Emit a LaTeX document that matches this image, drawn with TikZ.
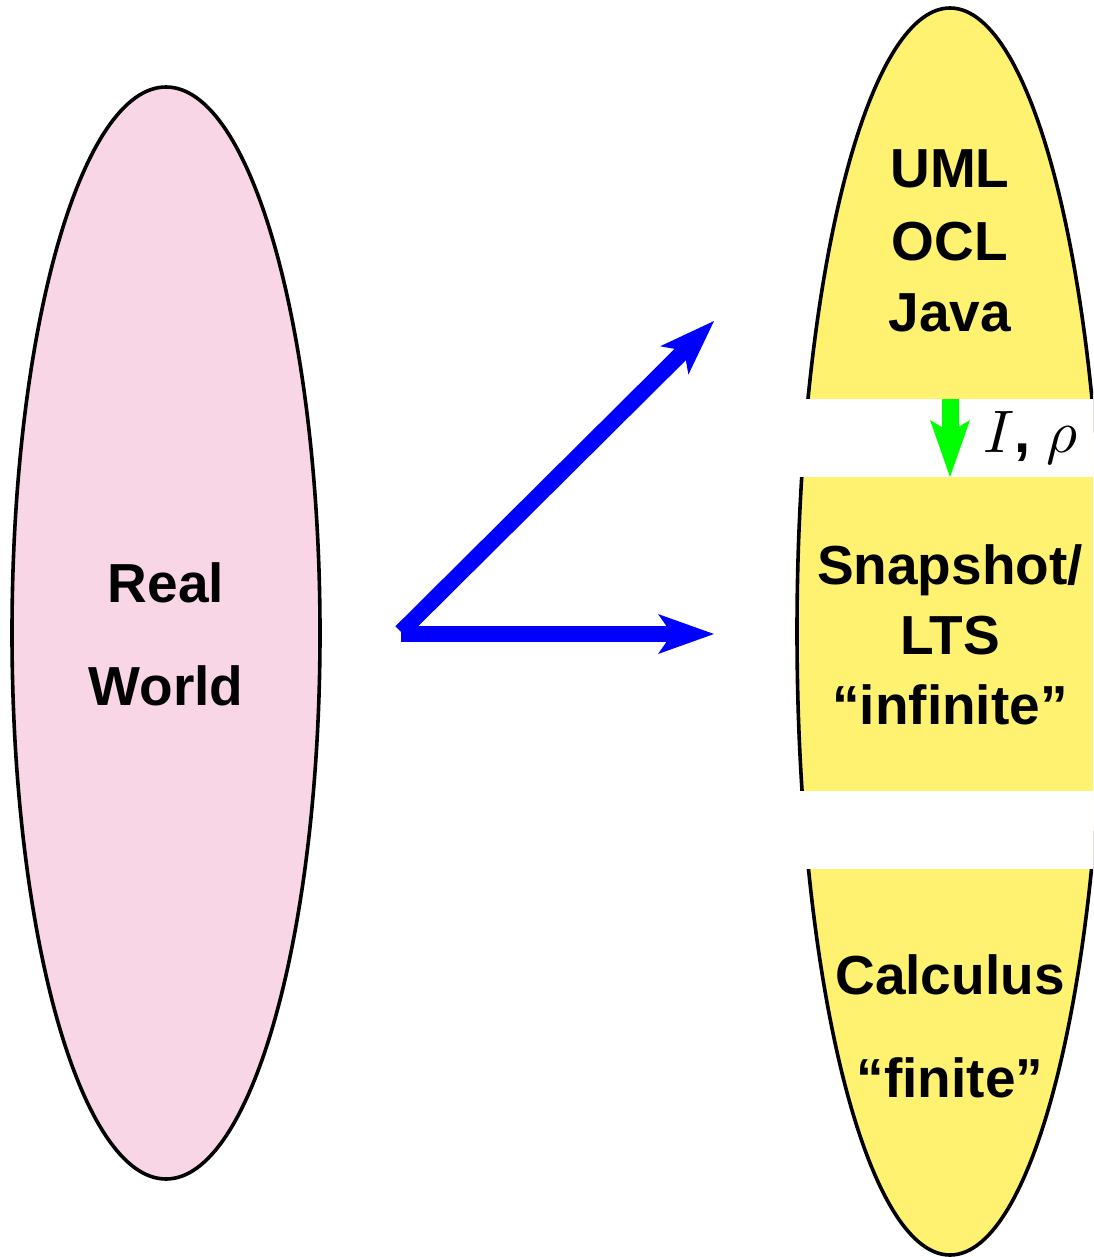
\documentclass[tikz,border=0pt]{standalone}
\usepackage{graphicx}
\usepackage{fontspec}
\setmainfont{Liberation Sans}
\usetikzlibrary{arrows.meta,shapes.geometric}
\definecolor{pinkfill}{RGB}{249,214,230}
\definecolor{yellowfill}{RGB}{255,242,112}
\definecolor{arrowblue}{RGB}{0,0,255}
\definecolor{arrowgreen}{RGB}{0,255,0}
\begin{document}
\begin{tikzpicture}[x=1pt,y=-1pt,
  txt/.style={font=\fontsize{55}{66}\selectfont\bfseries, inner sep=0pt, anchor=base},
  blob/.style={ellipse, draw=black, line width=3.6pt, inner sep=0pt},
  band/.style={fill=white},
  bluearrow/.style={draw=arrowblue, line width=16pt,
    -{Stealth[length=56pt,width=40pt,inset=14pt,line width=0pt]}},
  greenarrow/.style={draw=arrowgreen, line width=17pt,
    -{Stealth[length=57pt,width=40pt,inset=12pt,line width=0pt]}}]
\useasboundingbox (0,0) rectangle (1093,1257);
\clip (0,0) rectangle (1093,1257);
\fill[white] (0,0) rectangle (1093,1257);
% ellipses
\node[blob, fill=pinkfill, minimum width=308pt, minimum height=1092pt] (world) at (166,633) {};
\node[blob, fill=yellowfill, minimum width=306pt, minimum height=1247pt] (models) at (950,631.5) {};
% white gaps
\fill[band] (770,399) rectangle (1110,477);
\fill[band] (770,791) rectangle (1110,869);
% green arrow
\coordinate (gtop) at (950,399);
\coordinate (gbot) at (950,477);
\draw[greenarrow] (gtop) -- (gbot);
\node[inner sep=0pt, anchor=base west, font=\fontsize{10}{12}\selectfont] (irho) at (983,452)
  {\scalebox{6}{$I$}{\fontsize{58}{70}\selectfont\bfseries, }\scalebox{6}{$\rho$}};
% texts
\node[txt] (real) at (166,602) {Real};
\node[txt] (worldt) at (166,705) {World};
\node[txt] (uml) at (950,188) {UML};
\node[txt] (ocl) at (950,260) {OCL};
\node[txt] (java) at (950,331) {Java};
\node[txt] (snap) at (950,584) {Snapshot/};
\node[txt] (lts) at (950,654) {LTS};
\node[txt] (inf) at (950,724) {“infinite”};
\node[txt] (calc) at (950,994) {Calculus};
\node[txt] (fin) at (950,1097) {“finite”};
% blue arrows
\coordinate (src) at (401,632);
\coordinate (src2) at (401,634);
\coordinate (tipup) at (714,321);
\coordinate (tipright) at (714,634);
\draw[bluearrow] (src) -- (tipup);
\draw[bluearrow] (src2) -- (tipright);
\end{tikzpicture}
\end{document}
